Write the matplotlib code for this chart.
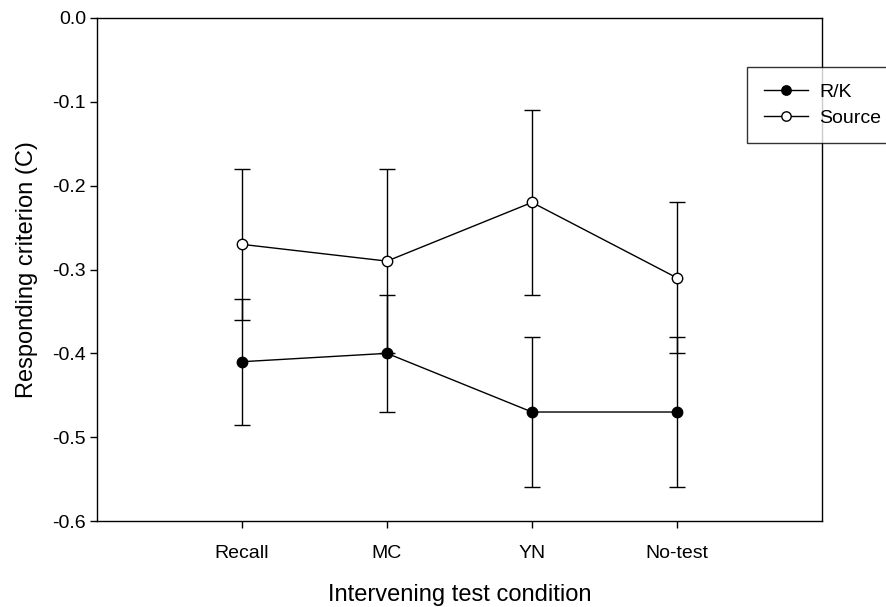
import numpy as np
import matplotlib
matplotlib.use("Agg")
import matplotlib.pyplot as plt

plt.rcParams['font.family'] = ['Liberation Sans', 'DejaVu Sans']

categories = ["Recall", "MC", "YN", "No-test"]
rk_mean = [-0.41, -0.40, -0.47, -0.47]
rk_err = [0.075, 0.07, 0.09, 0.09]
src_mean = [-0.27, -0.29, -0.22, -0.31]
src_err = [0.09, 0.11, 0.11, 0.09]
yticks = [-0.6, -0.5, -0.4, -0.3, -0.2, -0.1, 0.0]
ytick_labels = ["-0.6", "-0.5", "-0.4", "-0.3", "-0.2", "-0.1", "0.0"]

x = np.arange(1, len(categories) + 1)

fig = plt.figure(figsize=(8.87, 6.07), dpi=100)
ax = fig.add_axes([97/887, 1 - 521/607, 725/887, 503/607])

ax.errorbar(x, rk_mean, yerr=rk_err, color='black', lw=1, marker='o', ms=7.5,
            mfc='black', mec='black', mew=1, capsize=5.5, elinewidth=1,
            capthick=1, label='R/K', zorder=3)
ax.errorbar(x, src_mean, yerr=src_err, color='black', lw=1, marker='o', ms=7.5,
            mfc='white', mec='black', mew=1, capsize=5.5, elinewidth=1,
            capthick=1, label='Source', zorder=3)

ax.set_xlim(0, 5)
ax.set_ylim(-0.6, 0.0)
ax.set_xticks(x)
ax.set_xticklabels(categories)
ax.set_yticks(yticks)
ax.set_yticklabels(ytick_labels)
ax.tick_params(direction='out', length=5, width=1, labelsize=14)
ax.tick_params(axis='x', pad=12)
ax.tick_params(axis='y', pad=3)
for s in ax.spines.values():
    s.set_linewidth(1)

ax.set_xlabel("Intervening test condition", fontsize=17, labelpad=16)
ax.set_ylabel("Responding criterion (C)", fontsize=17, labelpad=10)

handles, labels = ax.get_legend_handles_labels()
handles = [h[0] for h in handles]
leg = fig.legend(handles, labels, loc='upper left',
                 bbox_to_anchor=(747/887, 1 - 67/607), fontsize=14,
                 frameon=True, fancybox=False, edgecolor='black',
                 handlelength=2.3, borderpad=0.85, labelspacing=0.42,
                 handletextpad=0.55, borderaxespad=0, markerscale=0.9)
leg.get_frame().set_linewidth(1)

fig.savefig("out.png", dpi=100)
